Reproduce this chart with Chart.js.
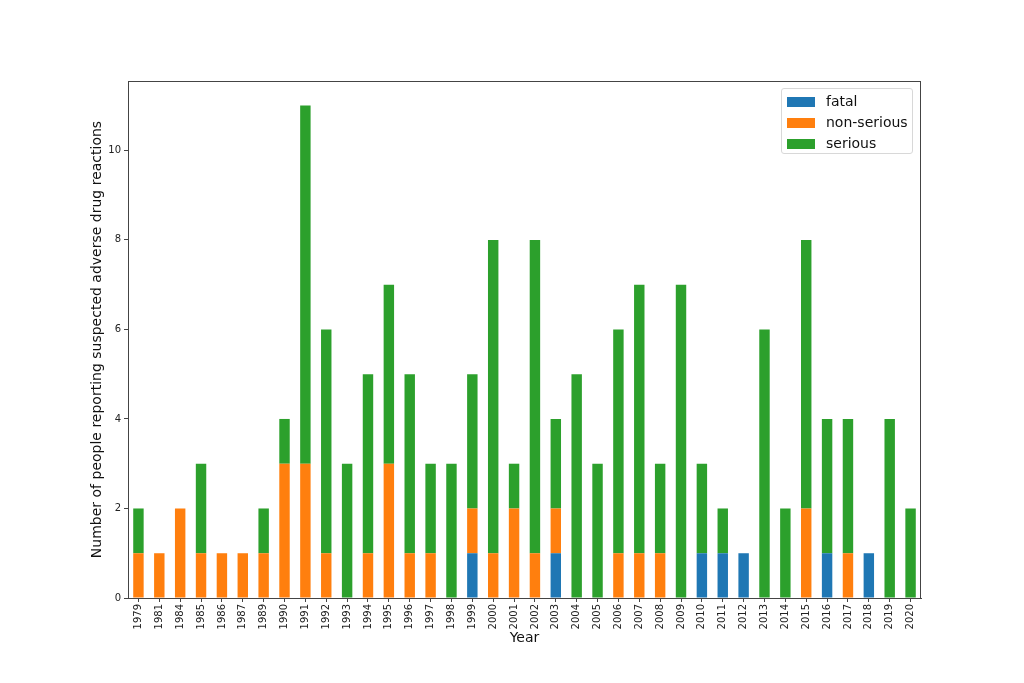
<!DOCTYPE html>
<html>
<head>
<meta charset="utf-8">
<script src="https://cdn.jsdelivr.net/npm/chart.js@4.4.1/dist/chart.umd.min.js"></script>
<style>
  html, body { margin: 0; padding: 0; background: #fff; }
  #wrap { position: relative; width: 1024px; height: 683px; }
  canvas { display: block; }
  #legend {
    position: absolute; left: 781px; top: 88px; width: 132px; height: 66px;
    border: 1px solid #d8d8d8; border-radius: 3px; background: rgba(255,255,255,0.8);
    font-family: "DejaVu Sans", sans-serif; font-size: 14px; color: #111;
    box-sizing: border-box; padding-top: 2px;
  }
  .item { position: relative; height: 21px; line-height: 21px; }
  .sw { position: absolute; left: 5px; top: 6px; width: 28px; height: 10px; }
  .lb { position: absolute; left: 44px; top: 0; }
</style>
</head>
<body>
<div id="wrap">
  <canvas id="c" width="1024" height="683"></canvas>
  <div id="legend"></div>
</div>
<script>
const years = ["1979","1981","1984","1985","1986","1987","1989","1990","1991","1992","1993","1994","1995","1996","1997","1998","1999","2000","2001","2002","2003","2004","2005","2006","2007","2008","2009","2010","2011","2012","2013","2014","2015","2016","2017","2018","2019","2020"];
const fatal      = [0,0,0,0,0,0,0,0,0,0,0,0,0,0,0,0,1,0,0,0,1,0,0,0,0,0,0,1,1,1,0,0,0,1,0,1,0,0];
const nonSerious = [1,1,2,1,1,1,1,3,3,1,0,1,3,1,1,0,1,1,2,1,1,0,0,1,1,1,0,0,0,0,0,0,2,0,1,0,0,0];
const serious    = [1,0,0,2,0,0,1,1,8,5,3,4,4,4,2,3,3,7,1,7,2,5,3,5,6,2,7,2,1,0,6,2,6,3,3,0,4,2];
const yTicks = [0,2,4,6,8,10];
const seriesNames = ["fatal","non-serious","serious"];
const seriesColors = ["#1f77b4","#ff7f0e","#2ca02c"];

const legend = document.getElementById('legend');
seriesNames.forEach((n,i)=>{
  const d = document.createElement('div'); d.className='item';
  d.innerHTML = '<span class="sw" style="background:'+seriesColors[i]+'"></span><span class="lb">'+n+'</span>';
  legend.appendChild(d);
});

const frame = {
  id: 'frame',
  afterDraw(chart) {
    const a = chart.chartArea, ctx = chart.ctx;
    ctx.save();
    ctx.strokeStyle = '#444';
    ctx.lineWidth = 1;
    ctx.strokeRect(Math.round(a.left)+0.5, Math.round(a.top)+0.5, Math.round(a.right-a.left)-1, Math.round(a.bottom-a.top));
    ctx.restore();
  }
};

const font = { family: "'DejaVu Sans', sans-serif", size: 10 };
new Chart(document.getElementById('c'), {
  type: 'bar',
  data: {
    labels: years,
    datasets: [fatal, nonSerious, serious].map((d,i)=>({
      label: seriesNames[i], data: d, backgroundColor: seriesColors[i],
      borderWidth: 0, barPercentage: 0.5, categoryPercentage: 1.0
    }))
  },
  options: {
    responsive: false, animation: false,
    layout: { padding: { left: 84, right: 103, top: 81, bottom: 31 } },
    plugins: { legend: { display: false }, tooltip: { enabled: false } },
    scales: {
      x: {
        stacked: true,
        afterFit(s) { s.height = 54; },
        grid: { offset: false, drawOnChartArea: false, drawTicks: true, tickLength: 4, color: '#444' },
        border: { color: '#444' },
        ticks: { font, color: '#222', minRotation: 90, maxRotation: 90, autoSkip: false, padding: 2 },
        title: { display: true, text: 'Year', font: { family: "'DejaVu Sans', sans-serif", size: 14 }, color: '#111', padding: { top: 0, bottom: 5 } }
      },
      y: {
        stacked: true, min: 0, max: 11.55,
        afterFit(s) { s.width = 44; },
        afterBuildTicks(s) { s.ticks = yTicks.map(v=>({value:v})); },
        grid: { drawOnChartArea: false, drawTicks: true, tickLength: 4, color: '#444' },
        border: { color: '#444' },
        ticks: { font, color: '#222', padding: 3 },
        title: { display: true, text: 'Number of people reporting suspected adverse drug reactions', font: { family: "'DejaVu Sans', sans-serif", size: 14 }, color: '#111', padding: { top: 5, bottom: 0 } }
      }
    }
  },
  plugins: [frame]
});
</script>
</body>
</html>
